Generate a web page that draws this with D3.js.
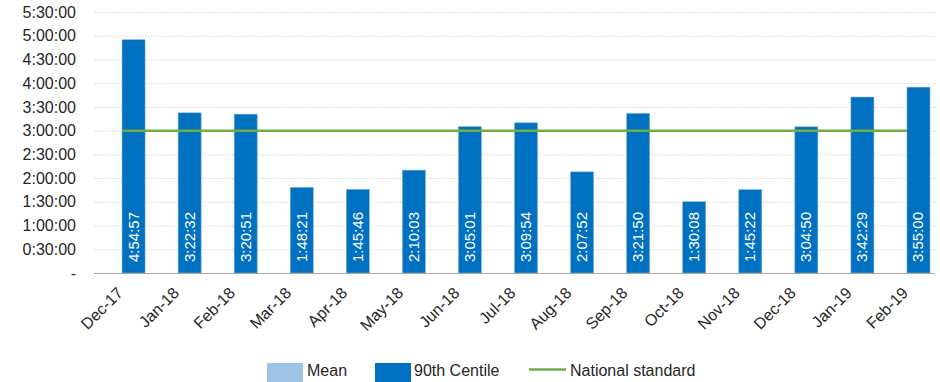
<!DOCTYPE html>
<html>
<head>
<meta charset="utf-8">
<script src="https://cdn.jsdelivr.net/npm/d3@7"></script>
<style>
  html, body { margin: 0; padding: 0; background: #fff; }
  svg { display: block; font-family: "Liberation Sans", "DejaVu Sans", sans-serif; }
</style>
</head>
<body>
<svg id="chart" width="940" height="382"></svg>
<script>
const months = ["Dec-17","Jan-18","Feb-18","Mar-18","Apr-18","May-18","Jun-18","Jul-18",
                "Aug-18","Sep-18","Oct-18","Nov-18","Dec-18","Jan-19","Feb-19"]
// 90th centile, as h:mm:ss
const centile90 = ["4:54:57","3:22:32","3:20:51","1:48:21","1:45:46","2:10:03","3:05:01","3:09:54",
                   "2:07:52","3:21:50","1:30:08","1:45:22","3:04:50","3:42:29","3:55:00"]
// mean series has no values in the chart
const meanVals = [null,null,null,null,null,null,null,null,null,null,null,null,null,null,null]
const nationalStandard = "3:00:00"
const yTicks = ["0:00:00","0:30:00","1:00:00","1:30:00","2:00:00","2:30:00","3:00:00",
                "3:30:00","4:00:00","4:30:00","5:00:00","5:30:00"]
const series = ["Mean", "90th Centile"]

function toSec(s) {
    const p = s.split(":").map(Number)
    return p[0] * 3600 + p[1] * 60 + p[2]
}
function fmt(sec) {
    if (sec === 0) return "-"
    const h = Math.floor(sec / 3600), m = Math.floor((sec % 3600) / 60), s = sec % 60
    return h + ":" + String(m).padStart(2, "0") + ":" + String(s).padStart(2, "0")
}

const colors = { "Mean": "#9DC3E6", "90th Centile": "#0070C0" }
const green = "#70AD47"

const svg = d3.select("#chart")
const plotLeft = 94, plotRight = 935, plotTop = 12, plotBottom = 273

const x = d3.scaleBand().domain(months).range([plotLeft, plotRight]).padding(0)
const x1 = d3.scaleBand().domain(series).range([0, x.bandwidth()]).paddingInner(0).paddingOuter(0.217)
const y = d3.scaleLinear().domain([0, toSec("5:30:00")]).range([plotBottom, plotTop])

// gridlines
svg.append("g")
    .selectAll("line")
    .data(yTicks.map(toSec).filter(d => d > 0))
    .join("line")
        .attr("x1", plotLeft).attr("x2", plotRight + 1)
        .attr("y1", d => y(d) + 0.5).attr("y2", d => y(d) + 0.5)
        .attr("stroke", "#d4d4d4")
        .attr("stroke-dasharray", "1.5,1.5")

// y axis labels
const yAxis = d3.axisLeft(y)
    .tickValues(yTicks.map(toSec))
    .tickFormat(fmt)
    .tickSize(0)
    .tickPadding(18)
svg.append("g")
    .attr("transform", `translate(${plotLeft},0)`)
    .call(yAxis)
    .call(g => g.select(".domain").remove())
    .call(g => g.selectAll("text")
        .attr("font-size", 16)
        .attr("font-family", "Liberation Sans, sans-serif")
        .attr("fill", "#262626"))

// bars
const rows = months.map((m, i) => ({ month: m, "Mean": meanVals[i], "90th Centile": centile90[i] ? toSec(centile90[i]) : null }))

const groups = svg.append("g")
    .selectAll("g")
    .data(rows)
    .join("g")
        .attr("transform", d => `translate(${x(d.month)},0)`)

groups.selectAll("rect")
    .data(d => series.map(s => ({ key: s, value: d[s] })).filter(d => d.value != null))
    .join("rect")
        .attr("x", d => x1(d.key))
        .attr("width", x1.bandwidth())
        .attr("y", d => y(d.value))
        .attr("height", d => plotBottom - y(d.value))
        .attr("fill", d => colors[d.key])
        .attr("stroke", "#7fb4e0")
        .attr("stroke-width", 0.6)

// data labels
groups.filter(d => d["90th Centile"] != null)
    .append("text")
        .attr("transform", d => `translate(${x1("90th Centile") + x1.bandwidth() / 2 + 5},${plotBottom - 11}) rotate(-90)`)
        .attr("fill", "#fff")
        .attr("font-size", 15)
        .attr("text-anchor", "start")
        .text(d => fmt(d["90th Centile"]))

// baseline
svg.append("line")
    .attr("x1", plotLeft).attr("x2", plotRight)
    .attr("y1", plotBottom + 0.5).attr("y2", plotBottom + 0.5)
    .attr("stroke", "#a6a6a6")
    .attr("stroke-width", 1)

// national standard line, from first to last category centre
svg.append("line")
    .attr("x1", x(months[0]) + x.bandwidth() / 2)
    .attr("x2", x(months[months.length - 1]) + x.bandwidth() / 2)
    .attr("y1", y(toSec(nationalStandard)))
    .attr("y2", y(toSec(nationalStandard)))
    .attr("stroke", green)
    .attr("stroke-width", 2.5)

// x axis labels
svg.append("g")
    .selectAll("text")
    .data(months)
    .join("text")
        .attr("transform", d => `translate(${x(d) + x.bandwidth() / 2 + 2},${plotBottom + 21}) rotate(-45)`)
        .attr("text-anchor", "end")
        .attr("font-size", 16)
        .attr("fill", "#262626")
        .text(d => d)

// legend
const legend = svg.append("g").attr("font-size", 16).attr("fill", "#262626")
legend.append("rect").attr("x", 267).attr("y", 363).attr("width", 36).attr("height", 19).attr("fill", colors["Mean"])
legend.append("text").attr("x", 307).attr("y", 376).text("Mean")
legend.append("rect").attr("x", 375).attr("y", 363).attr("width", 36).attr("height", 19).attr("fill", colors["90th Centile"])
legend.append("text").attr("x", 414).attr("y", 376).text("90th Centile")
legend.append("line").attr("x1", 529).attr("x2", 566).attr("y1", 369.5).attr("y2", 369.5)
    .attr("stroke", green).attr("stroke-width", 2.5)
legend.append("text").attr("x", 570).attr("y", 376).text("National standard")
</script>
</body>
</html>
